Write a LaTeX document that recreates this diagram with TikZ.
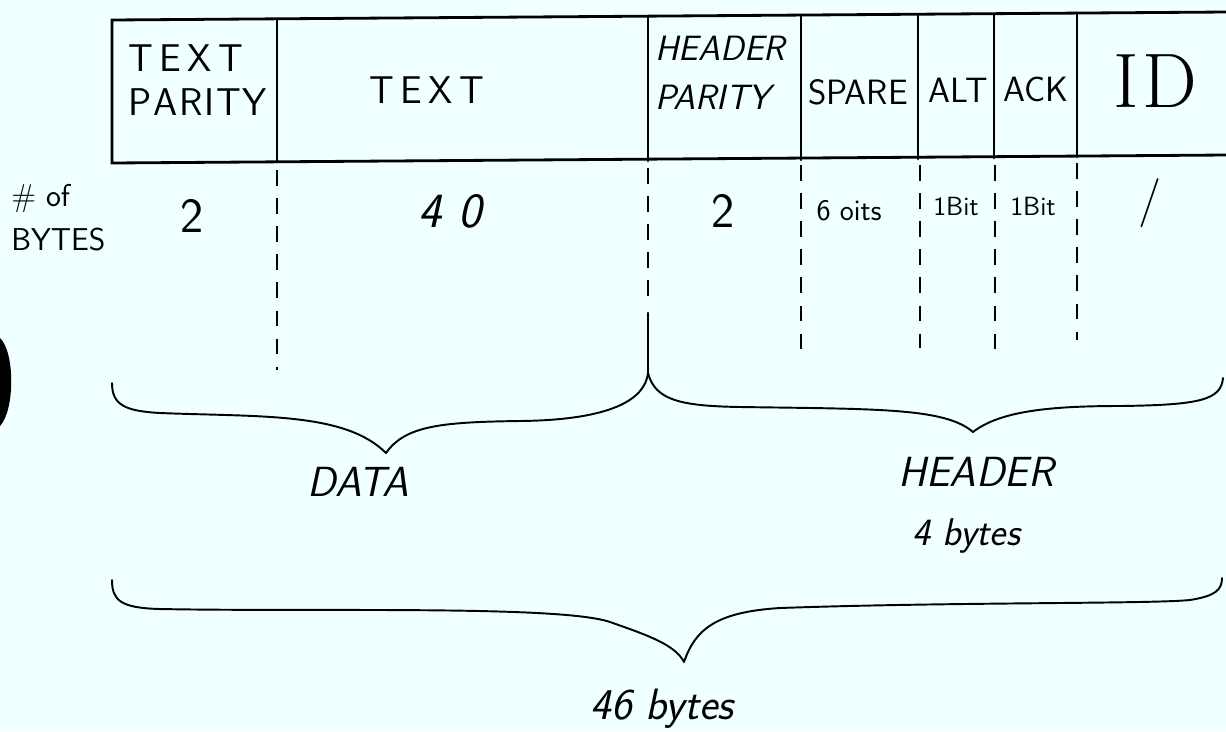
\documentclass[tikz,border=0pt]{standalone}
\usepackage{fontspec}
\begin{document}
\begin{tikzpicture}[x=0.02cm,y=-0.02cm,
  frame/.style={line width=1.6pt,line cap=round},
  divline/.style={line width=1.6pt,dash pattern=on 9pt off 7pt},
  brace/.style={line width=1.1pt,line cap=round,line join=round},
  lab/.style={font=\sffamily\fontsize{20}{22}\selectfont,align=center,inner sep=0pt},
  hlab/.style={font=\sffamily\itshape\fontsize{20}{22}\selectfont,align=center,inner sep=0pt},
  num/.style={font=\sffamily\fontsize{28}{30}\selectfont,inner sep=0pt},
  small/.style={font=\sffamily\fontsize{15}{17}\selectfont,inner sep=0pt}]
\definecolor{paper}{RGB}{240,255,255}
\fill[paper] (0,0) rectangle (1226,731);
\useasboundingbox (0,0) rectangle (1226,731);
% hole punch shadow
\fill[black] (0,338) .. controls (15,352) and (15,410) .. (0,426) -- cycle;
% record box
\draw[frame] (1226,12) -- (112,20) -- (112,163) -- (1226,155);
\foreach \x/\t/\b in {277/19/162,648/17/161,801/16/160,918/15/159,994/14/158,1077/13/157}{
  \draw[frame] (\x,\t) -- (\x,\b);
}
% divider coordinates
\coordinate (a0) at (277,170);  \coordinate (a1) at (277,370);
\coordinate (b0) at (648,168);  \coordinate (b1) at (648,300); \coordinate (b2) at (648,373);
\coordinate (c0) at (801,165);  \coordinate (c1) at (801,350);
\coordinate (d0) at (920,165);  \coordinate (d1) at (920,348);
\coordinate (e0) at (995,165);  \coordinate (e1) at (995,353);
\coordinate (f0) at (1077,163); \coordinate (f1) at (1077,340);
\draw[divline] (a0) -- (a1);
\draw[divline] (b0) -- (b1);
\draw[frame] (648,313) -- (b2);
\draw[divline] (c0) -- (c1);
\draw[divline] (d0) -- (d1);
\draw[divline] (e0) -- (e1);
\draw[divline] (f0) -- (f1);
% field labels
\node[lab,align=left,anchor=west,font=\sffamily\fontsize{22}{24}\selectfont] (tpar) at (128,80) {T\,E\,X\,T\\[1pt]P\kern1pt A\kern1pt R\kern1pt I\kern1pt T\kern1pt Y};
\node[lab,font=\sffamily\fontsize{22}{24}\selectfont] (text) at (427,90) {T\,E\,X\,T};
\node[hlab,align=left,anchor=west] (hpar) at (655,73) {HEADER\\[6pt]PARITY};
\node[lab] (spare) at (858,92) {SPARE};
\node[lab] (alt) at (958,90) {ALT};
\node[lab] (ack) at (1036,89) {ACK};
\node[lab,font=\rmfamily\fontsize{44}{46}\selectfont] (id) at (1155,81) {I\kern2pt D};
% byte counts
\node[lab,align=left,anchor=west,font=\sffamily\fontsize{18}{20}\selectfont] (nob) at (11,218) {\# of\\[5pt]BYTES};
\node[num] (n1) at (192,216) {2};
\node[num,font=\sffamily\itshape\fontsize{28}{30}\selectfont] (n2) at (450,211) {4\,\,0};
\node[num] (n3) at (723,211) {2};
\node[small,font=\sffamily\fontsize{17}{19}\selectfont] (n4) at (849,211) {6 oits};
\node[small] (n5) at (956,206) {1Bit};
\node[small] (n6) at (1033,206) {1Bit};
\node[num,font=\sffamily\fontsize{28}{30}\selectfont] (n7) at (1150,203) {/};
% braces
\coordinate (dL) at (112,383); \coordinate (dC) at (386,453);
\draw[brace] (dL) .. controls (112,405) and (125,411) .. (160,413)
  .. controls (260,417) and (345,412) .. (dC)
  .. controls (405,426) and (440,422) .. (520,421)
  .. controls (610,420) and (645,400) .. (b2);
\coordinate (hR) at (1223,378); \coordinate (hC) at (973,432);
\draw[brace] (b2) .. controls (655,400) and (680,406) .. (740,407)
  .. controls (880,409) and (945,408) .. (hC)
  .. controls (1000,411) and (1050,406) .. (1120,406)
  .. controls (1200,405) and (1221,400) .. (hR);
\coordinate (tL) at (112,580); \coordinate (tR) at (1222,578); \coordinate (tC) at (684,662);
\draw[brace] (tL) .. controls (112,600) and (120,608) .. (160,609)
  .. controls (320,612) and (560,605) .. (610,622)
  .. controls (650,636) and (675,645) .. (tC)
  .. controls (695,630) and (715,612) .. (780,608)
  .. controls (950,602) and (1150,604) .. (1190,600)
  .. controls (1215,596) and (1222,590) .. (tR);
% group labels
\node[hlab,font=\sffamily\itshape\fontsize{24}{26}\selectfont] (data) at (358,482) {DATA};
\node[hlab,font=\sffamily\itshape\fontsize{24}{26}\selectfont] (header) at (976,472) {HEADER};
\node[hlab,font=\sffamily\itshape\fontsize{22}{24}\selectfont] (hb) at (966,536) {4 bytes};
\node[hlab,font=\sffamily\itshape\fontsize{25}{27}\selectfont] (tb) at (662,709) {46 bytes};
\end{tikzpicture}
\end{document}
